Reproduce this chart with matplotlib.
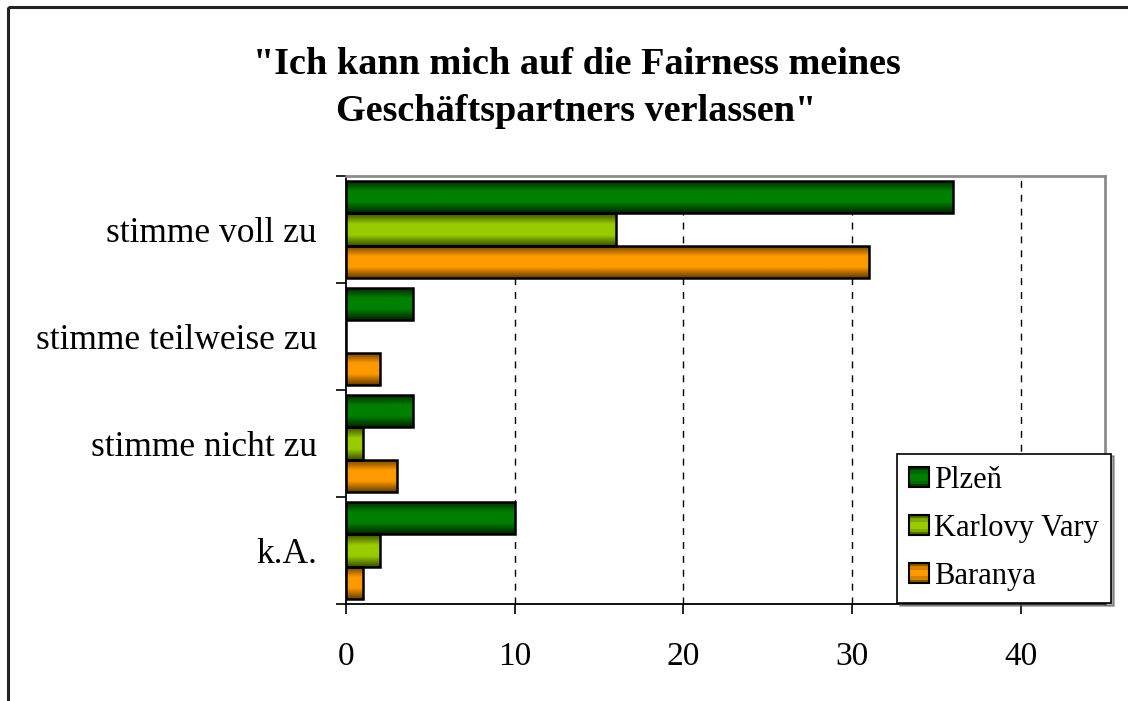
import numpy as np
import matplotlib
matplotlib.use("Agg")
import matplotlib.pyplot as plt
from matplotlib.patches import Rectangle
from matplotlib.colors import LinearSegmentedColormap
from matplotlib.legend_handler import HandlerBase
from matplotlib.lines import Line2D

plt.rcParams['font.family'] = ['Liberation Serif', 'DejaVu Serif']

categories = ["stimme voll zu", "stimme teilweise zu", "stimme nicht zu", "k.A."]
series_names = ["Plzeň", "Karlovy Vary", "Baranya"]
plzen = [36, 4, 4, 10]
karlovy_vary = [16, 0, 1, 2]
baranya = [31, 2, 3, 1]
x_ticks = [0, 10, 20, 30, 40]
title = '"Ich kann mich auf die Fairness meines\nGeschäftspartners verlassen"'

# (mid colour, edge colour) for the banded fill of each series
shades = [("#008000", "#002400"),
          ("#99cc00", "#3a4e00"),
          ("#ff9900", "#663d00")]

fig = plt.figure(figsize=(11.28, 7.01), dpi=100)
# outer chart frame
fig.patches.append(Rectangle((8 / 1128, 1 - 7 / 701), 2, -2, transform=fig.transFigure,
                             fill=False, edgecolor="#222222", linewidth=2.2, zorder=0))

ax = fig.add_axes([346 / 1128, 1 - 604 / 701, (1105 - 346) / 1128, (604 - 176) / 701])

n_cat = len(categories)
bar_h = 0.3
y_base = np.arange(n_cat)


def banded_image(mid, edge, n=64):
    cmap = LinearSegmentedColormap.from_list("b", [edge, mid, mid, edge])
    t = np.linspace(0, 1, n)
    return cmap(t)[:, None, :]


all_series = [plzen, karlovy_vary, baranya]
for i, (vals, name) in enumerate(zip(all_series, series_names)):
    pos = y_base - bar_h + i * bar_h
    bars = ax.barh(pos, vals, height=bar_h, color="none", edgecolor="black",
                   linewidth=1.8, label=name, zorder=3)
    img = banded_image(*shades[i])
    for b in bars:
        if b.get_width() <= 0:
            continue
        x0, y0 = b.get_x(), b.get_y()
        w, h = b.get_width(), b.get_height()
        im = ax.imshow(img, extent=[x0, x0 + w, y0 + h, y0], aspect="auto",
                       interpolation="bilinear", zorder=2)
        im.set_clip_path(b)
        b.set_zorder(3)

ax.set_xlim(0, 45)
ax.set_ylim(n_cat - 0.5, -0.5)
ax.set_yticks(y_base)
ax.set_yticklabels(categories, fontsize=25.5)
ax.set_yticks(np.arange(n_cat + 1) - 0.5, minor=True)
ax.tick_params(axis="y", which="major", length=0, pad=21)
ax.tick_params(axis="y", which="minor", length=7, width=1.2, direction="out")
ax.set_xticks(x_ticks)
ax.set_xticklabels([str(v) for v in x_ticks], fontsize=24)
ax.tick_params(axis="x", length=7, width=1.2, direction="out", pad=20)

for v in x_ticks[1:]:
    ax.axvline(v, color="black", linestyle=(0, (5, 5)), linewidth=1.0, zorder=1)

for side in ["top", "right"]:
    ax.spines[side].set_color("#8c8c8c")
    ax.spines[side].set_linewidth(2)
for side in ["left", "bottom"]:
    ax.spines[side].set_color("black")
    ax.spines[side].set_linewidth(1.3)


class BandedHandler(HandlerBase):
    def __init__(self, mid, edge):
        super().__init__()
        self.mid, self.edge = mid, edge

    def create_artists(self, legend, orig_handle, xdescent, ydescent,
                       width, height, fontsize, trans):
        side = height * 1.0
        x0 = -xdescent + width - side
        y0 = -ydescent
        arts = []
        cmap = LinearSegmentedColormap.from_list("b", [self.edge, self.mid, self.mid, self.edge])
        n = 6
        for k in range(n):
            r = Rectangle((x0, y0 + side * k / n), side, side / n,
                          facecolor=cmap((k + 0.5) / n), edgecolor="none",
                          transform=trans)
            arts.append(r)
        arts.append(Rectangle((x0, y0), side, side, facecolor="none",
                              edgecolor="black", linewidth=1.5, transform=trans))
        return arts


handles = [Line2D([], []) for _ in series_names]
leg = ax.legend(handles, series_names, loc="lower right",
                bbox_to_anchor=(1111 / 1128, 1 - 603 / 701),
                bbox_transform=fig.transFigure,
                handler_map={h: BandedHandler(*shades[i]) for i, h in enumerate(handles)},
                fontsize=22, frameon=True, fancybox=False, shadow=True,
                handlelength=0.65, handleheight=0.65, handletextpad=0.15,
                labelspacing=0.62, borderpad=0.4, borderaxespad=0.0)
leg.get_frame().set_edgecolor("black")
leg.get_frame().set_linewidth(1.2)
leg.set_zorder(5)

fig.text(0.511, 1 - 88 / 701, title, ha="center", va="center", fontsize=27.5,
         fontweight="bold", linespacing=1.45)

fig.savefig("out.png", dpi=100)
